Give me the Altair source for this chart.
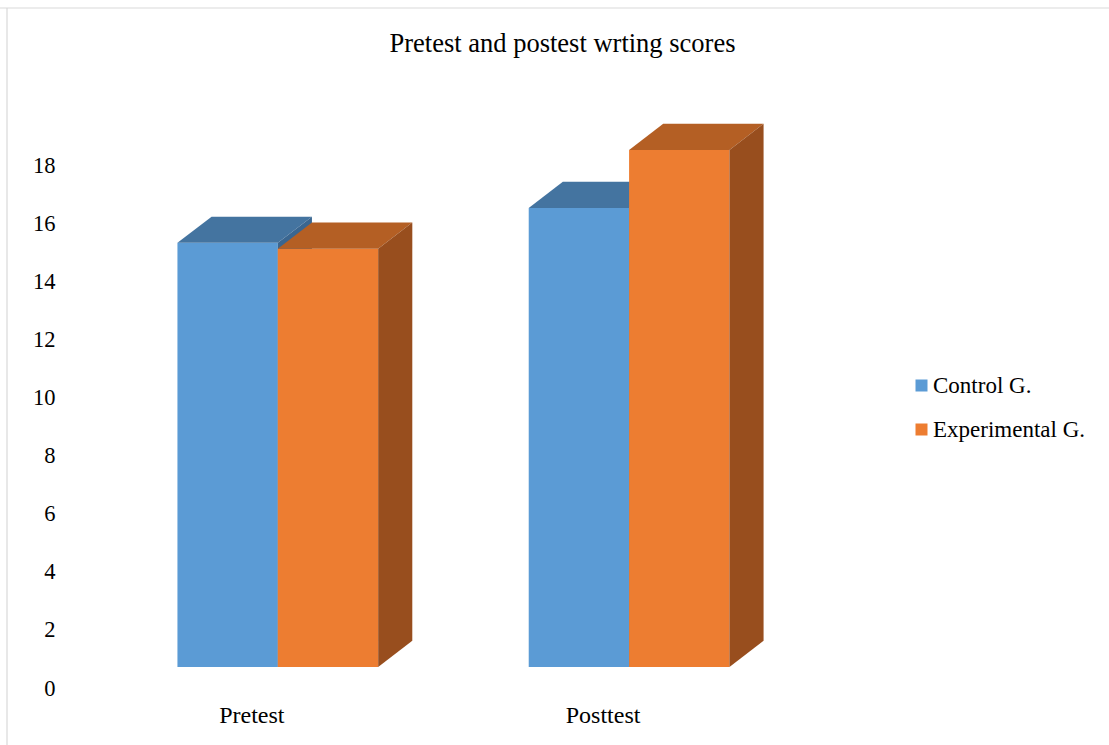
import altair as alt
import pandas as pd

# ---- data ----
title_text = "Pretest and postest wrting scores"
categories = ["Pretest", "Posttest"]
series = ["Control G.", "Experimental G."]
control_values = [14.6, 15.8]
experimental_values = [14.4, 17.8]
y_ticks = [0, 2, 4, 6, 8, 10, 12, 14, 16, 18]

# ---- styling ----
front_colors = ["#5B9BD5", "#ED7D31"]
top_colors = ["#4474A0", "#B45F24"]
side_colors = ["#3A6690", "#984E1E"]
FONT = "Liberation Serif"

# geometry of the oblique 3-D look (in scale units)
GROUP_STEP = 3.5   # bar-width units from one category group to the next
DEPTH_X = 0.34     # depth shift to the right, in bar-width units
DEPTH_Y = 0.9      # depth shift upward, in score units

rows, top_rows, side_rows = [], [], []
for si, (s, vals) in enumerate(zip(series, [control_values, experimental_values])):
    for ci, (c, v) in enumerate(zip(categories, vals)):
        x0 = ci * GROUP_STEP + si
        x1 = x0 + 1
        rows.append(dict(series=s, category=c, value=v, x0=x0, x1=x1, base=0.0))
        top_rows.append(dict(series=s, category=c, y=v, xl=x0, xr=x1))
        top_rows.append(dict(series=s, category=c, y=v + DEPTH_Y, xl=x0 + DEPTH_X, xr=x1 + DEPTH_X))
        side_rows.append(dict(series=s, category=c, x=x1, ytop=v, ybot=0.0))
        side_rows.append(dict(series=s, category=c, x=x1 + DEPTH_X, ytop=v + DEPTH_Y, ybot=DEPTH_Y))

bars = pd.DataFrame(rows)
tops = pd.DataFrame(top_rows)
sides = pd.DataFrame(side_rows)
labels = pd.DataFrame(dict(category=categories,
                           xc=[ci * GROUP_STEP + 1.0 for ci in range(len(categories))],
                           base=[0.0] * len(categories)))

W, H = 823, 581
xscale = alt.Scale(domain=[-1.2, 7.0], nice=False, zero=False)
yscale = alt.Scale(domain=[0, 20], nice=False)
yaxis = alt.Axis(values=y_ticks, domain=False, ticks=False, tickSize=0, grid=False,
                 labelFont=FONT, labelFontSize=22.5, labelColor="black",
                 labelPadding=2, labelOffset=21, title=None)

layers = []

# border (top and left edges of the chart frame)
layers.append(alt.Chart(alt.Data(values=[{}])).mark_rule(color="#D9D9D9", strokeWidth=1.2).encode(
    x=alt.value(-57), x2=alt.value(1060), y=alt.value(-78)))
layers.append(alt.Chart(alt.Data(values=[{}])).mark_rule(color="#D9D9D9", strokeWidth=1.2).encode(
    x=alt.value(-50), y=alt.value(-78), y2=alt.value(670)))

# chart title
layers.append(alt.Chart(alt.Data(values=[{"t": title_text}])).mark_text(
    font=FONT, fontSize=26.5, color="black", align="center", baseline="alphabetic"
).encode(x=alt.value(505.5), y=alt.value(-34), text="t:N"))

for si, s in enumerate(series):
    front = alt.Chart(bars).transform_filter(alt.datum.series == s).mark_rect().encode(
        x=alt.X("x0:Q", scale=xscale, axis=None),
        x2="x1:Q",
        y=alt.Y("value:Q", scale=yscale, axis=yaxis, stack=None),
        y2="base:Q",
        color=alt.Color("series:N", scale=alt.Scale(domain=series, range=front_colors),
                        legend=alt.Legend(title=None, orient="none", legendX=853, legendY=288,
                                          symbolType="square", symbolSize=144, symbolStrokeWidth=0,
                                          labelFont=FONT, labelFontSize=23, labelColor="black",
                                          labelOffset=0, rowPadding=20, padding=0)),
    )
    top = alt.Chart(tops).transform_filter(alt.datum.series == s).mark_area(
        orient="horizontal", color=top_colors[si]).encode(
        y=alt.Y("y:Q", scale=yscale, axis=yaxis, stack=None),
        x=alt.X("xl:Q", scale=xscale, axis=None, stack=None),
        x2="xr:Q",
        detail="category:N",
    )
    side = alt.Chart(sides).transform_filter(alt.datum.series == s).mark_area(
        orient="vertical", color=side_colors[si]).encode(
        x=alt.X("x:Q", scale=xscale, axis=None, stack=None),
        y=alt.Y("ytop:Q", scale=yscale, axis=yaxis, stack=None),
        y2="ybot:Q",
        detail="category:N",
    )
    layers += [front, top, side]

cat_text = alt.Chart(labels).mark_text(
    font=FONT, fontSize=24, color="black", align="center", baseline="alphabetic", dx=-26, dy=56
).encode(
    x=alt.X("xc:Q", scale=xscale, axis=None),
    y=alt.Y("base:Q", scale=yscale, axis=yaxis),
    text="category:N",
)
layers.append(cat_text)

chart = alt.layer(*layers).properties(
    width=W, height=H,
    autosize=alt.AutoSizeParams(type="none"),
    padding={"left": 57, "top": 86, "right": 229, "bottom": 78},
).configure(background="white", view=alt.ViewConfig(stroke=None))

chart.save("out.html", embed_options={"renderer": "svg", "actions": False})
